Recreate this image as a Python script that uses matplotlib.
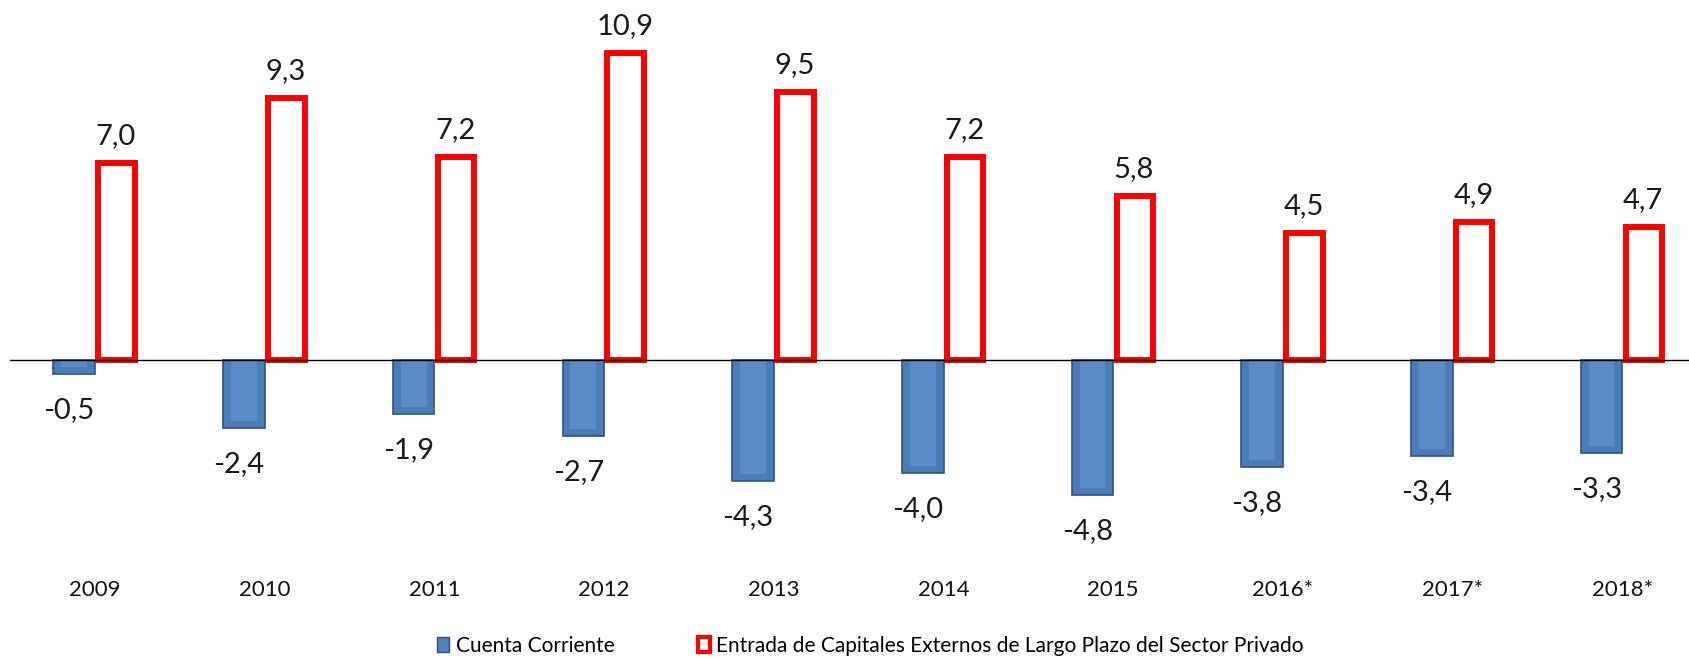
import numpy as np
import matplotlib
matplotlib.use('Agg')
import matplotlib.pyplot as plt
from matplotlib.patches import Patch

plt.rcParams['font.family'] = ['Lato', 'DejaVu Sans']

years = ['2009', '2010', '2011', '2012', '2013', '2014', '2015', '2016*', '2017*', '2018*']
cuenta_corriente = [-0.5, -2.4, -1.9, -2.7, -4.3, -4.0, -4.8, -3.8, -3.4, -3.3]
capitales = [7.0, 9.3, 7.2, 10.9, 9.5, 7.2, 5.8, 4.5, 4.9, 4.7]
label_cc = 'Cuenta Corriente'
label_cap = 'Entrada de Capitales Externos de Largo Plazo del Sector Privado'

W, H = 1690, 658
fig = plt.figure(figsize=(W / 100, H / 100), dpi=100)
ax = fig.add_axes([0, 0, 1, 1])

px_x = 169.7   # px per category
x0 = 95.0      # px of first category
px_y = 28.2    # px per unit
y0 = 360.0     # px of zero line from top

ax.set_xlim(-x0 / px_x, (W - x0) / px_x)
ax.set_ylim(-(H - y0) / px_y, y0 / px_y)
ax.axis('off')

x = np.arange(len(years))
bw = 0.245

# blue bars with a lighter inner face to mimic the bevel
ax.bar(x - bw / 2, cuenta_corriente, width=bw, color='#4a7cb8',
       edgecolor='#2f5283', linewidth=1.2, zorder=2)
ax.bar(x - bw / 2, [v + 0.25 for v in cuenta_corriente], width=bw * 0.62,
       color='#5a8ccc', linewidth=0, zorder=2.5)
ax.bar(x + bw / 2 + 0.005, capitales, width=bw - 0.03, color='white',
       edgecolor='#ff0000', linewidth=4.3, zorder=3)

ax.plot([-0.5, (W - x0) / px_x], [0, 0], color='black', linewidth=1.0, zorder=4)

for i in range(len(years)):
    ax.text(x[i] + bw / 2, capitales[i] + 27 / px_y, f'{capitales[i]:.1f}'.replace('.', ','),
            ha='center', va='center', fontsize=21, color='#1a1a1a')
    ax.text(x[i] - bw / 2 - 0.03, cuenta_corriente[i] - 36 / px_y,
            f'{cuenta_corriente[i]:.1f}'.replace('.', ','),
            ha='center', va='center', fontsize=21, color='#1a1a1a')
    ax.text(x[i], -(590 - y0) / px_y, years[i], ha='center', va='center',
            fontsize=16, color='#111111')

handles = [Patch(facecolor='#4f81bd', edgecolor='#2f5283', label=label_cc),
           Patch(facecolor='white', edgecolor='#ff0000', linewidth=3, label=label_cap)]
fig.legend(handles=handles, loc='center', bbox_to_anchor=(0.515, 1 - 646 / H),
           ncol=2, frameon=False, fontsize=15, handlelength=0.6, handleheight=0.7,
           handletextpad=0.3, columnspacing=4.0, borderpad=0.0)

fig.savefig('out.png', dpi=100)
